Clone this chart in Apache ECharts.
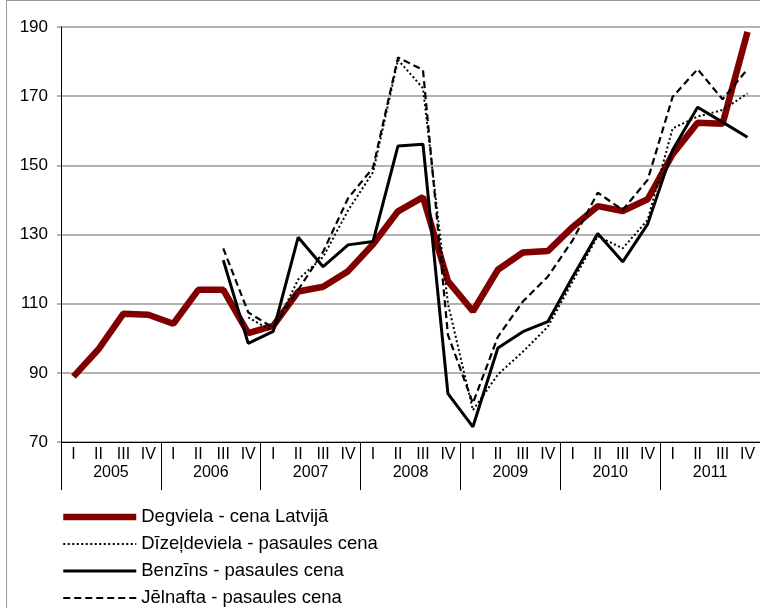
<!DOCTYPE html>
<html><head><meta charset="utf-8">
<script src="https://cdn.jsdelivr.net/npm/echarts@6/dist/echarts.min.js"></script>
<style>
html,body{margin:0;padding:0;background:#fff;overflow:hidden;width:760px;height:608px;}
#frame{position:absolute;left:6px;top:0;width:800px;height:700px;border-left:1.5px solid #9a9a9a;border-top:1.5px solid #9a9a9a;}
#c{position:absolute;left:0;top:0;width:760px;height:608px;}
</style></head><body><div id="frame"></div><div id="c"></div>
<script>
const quarterLabels = ['I','II','III','IV','I','II','III','IV','I','II','III','IV','I','II','III','IV','I','II','III','IV','I','II','III','IV','I','II','III','IV'];
const years = ['2005','2006','2007','2008','2009','2010','2011'];
const yTicks = {min: 70, max: 190, step: 20};

const degviela = [88.9, 96.8, 107.1, 106.8, 104.2, 114, 114, 101.5, 103.6, 113.5, 114.9, 119.4, 127.2, 136.7, 140.8, 116.5, 107.8, 119.8, 124.8, 125.2, 132.2, 138.2, 136.8, 140.2, 153.2, 162.3, 162, 188.6];
const dizeldeviela = [null, null, null, null, null, null, null, 106, 102, 117, 123.5, 137, 148, 180.5, 172.3, 110, 79.2, 89.5, 96.1, 103.3, 116.5, 129.5, 126, 134.2, 160.7, 164.1, 166, 170.8];
const benzins = [null, null, null, null, null, null, 122.6, 98.5, 102, 129.2, 120.7, 127, 128, 155.6, 156.1, 84, 74.4, 97.2, 101.9, 104.8, 117.8, 130.3, 122.1, 133, 154.4, 166.8, 162.5, 158.1];
const jelnafta = [null, null, null, null, null, null, 126, 107.5, 103, 114, 125, 140.5, 149.3, 181.2, 177.6, 101, 81.2, 100.4, 110.6, 117.8, 128.4, 142.1, 137.1, 145.8, 169.8, 177.8, 169.1, 177.8];

const names = ['Degviela - cena Latvijā', 'Dīzeļdeviela - pasaules cena', 'Benzīns - pasaules cena', 'Jēlnafta - pasaules cena'];
const FONT = '"Liberation Sans", Arial, sans-serif';

const styles = [
  {color: '#800000', width: 6.5, type: 'solid'},
  {color: '#000', width: 2, type: [2, 2.5]},
  {color: '#000', width: 3, type: 'solid'},
  {color: '#000', width: 2.2, type: [7, 4]}
];
const dataSets = [degviela, dizeldeviela, benzins, jelnafta];

const chart = echarts.init(document.getElementById('c'), null, {renderer: 'canvas'});
chart.setOption({
  animation: false,
  backgroundColor: 'transparent',
  textStyle: {fontFamily: FONT},
  grid: {left: 61, top: 27, width: 707, height: 415, containLabel: false},
  legend: {
    orient: 'vertical', left: 60, top: 507, padding: 0,
    itemWidth: 73, itemHeight: 14, itemGap: 7,
    itemStyle: {opacity: 0},
    textStyle: {fontSize: 18.5, color: '#000', fontFamily: FONT, lineHeight: 20},
    data: names.map((n, i) => ({name: n, lineStyle: {width: styles[i].width, type: styles[i].type, color: styles[i].color}}))
  },
  xAxis: [
    {
      type: 'category', data: quarterLabels, position: 'bottom', offset: 0,
      boundaryGap: true,
      axisLine: {show: true, lineStyle: {color: '#000', width: 1}},
      axisTick: {show: false},
      axisLabel: {interval: 0, margin: 5, fontSize: 16, color: '#000', fontFamily: FONT},
      splitLine: {show: false}
    },
    {
      type: 'category', data: years, position: 'bottom', offset: 0,
      boundaryGap: true,
      axisLine: {show: false},
      axisTick: {show: true, interval: 0, length: 48, inside: false, alignWithLabel: false, lineStyle: {color: '#000', width: 1}},
      axisLabel: {interval: 0, margin: 23, fontSize: 16, color: '#000', fontFamily: FONT},
      splitLine: {show: false}
    }
  ],
  yAxis: {
    type: 'value', min: yTicks.min, max: yTicks.max, interval: yTicks.step,
    axisLine: {show: true, lineStyle: {color: '#000', width: 1}},
    axisTick: {show: true, length: 4, lineStyle: {color: '#999', width: 1.5}},
    axisLabel: {margin: 13, fontSize: 17, color: '#000', fontFamily: FONT},
    splitLine: {show: true, lineStyle: {color: '#999', width: 1.5}}
  },
  series: names.map((n, i) => ({
    name: n, type: 'line', data: dataSets[i], symbol: 'none', connectNulls: false,
    lineStyle: {color: styles[i].color, width: styles[i].width, type: styles[i].type},
    itemStyle: {color: styles[i].color}, z: 2 + i
  }))
});
</script></body></html>
